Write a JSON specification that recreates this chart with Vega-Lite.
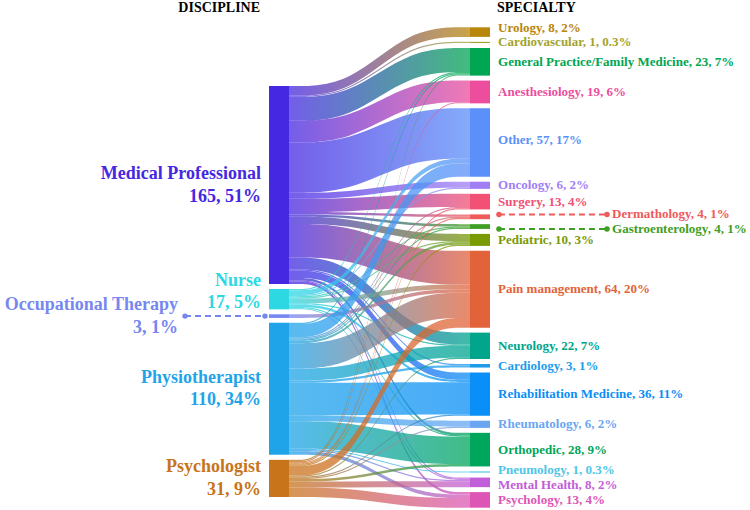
{
  "$schema": "https://vega.github.io/schema/vega-lite/v6.json",
  "width": 750,
  "height": 510,
  "autosize": {"type": "fit", "contains": "padding"},
  "padding": 0,
  "background": "white",
  "config": {"view": {"stroke": null}, "font": "'Liberation Serif', 'Times New Roman', serif"},
  "datasets": {
    "flows": [
      {"source": "Medical Professional", "target": "Urology", "value": 8},
      {"source": "Medical Professional", "target": "Cardiovascular", "value": 1},
      {"source": "Medical Professional", "target": "General Practice/Family Medicine", "value": 20},
      {"source": "Medical Professional", "target": "Anesthesiology", "value": 18},
      {"source": "Medical Professional", "target": "Other", "value": 42},
      {"source": "Medical Professional", "target": "Oncology", "value": 5},
      {"source": "Medical Professional", "target": "Surgery", "value": 11},
      {"source": "Medical Professional", "target": "Dermathology", "value": 2},
      {"source": "Medical Professional", "target": "Gastroenterology", "value": 2},
      {"source": "Medical Professional", "target": "Pediatric", "value": 6},
      {"source": "Medical Professional", "target": "Pain management", "value": 28},
      {"source": "Medical Professional", "target": "Neurology", "value": 10},
      {"source": "Medical Professional", "target": "Cardiology", "value": 1},
      {"source": "Medical Professional", "target": "Rehabilitation Medicine", "value": 6},
      {"source": "Medical Professional", "target": "Orthopedic", "value": 2},
      {"source": "Medical Professional", "target": "Mental Health", "value": 1},
      {"source": "Medical Professional", "target": "Psychology", "value": 2},
      {"source": "Nurse", "target": "General Practice/Family Medicine", "value": 1},
      {"source": "Nurse", "target": "Other", "value": 4},
      {"source": "Nurse", "target": "Oncology", "value": 1},
      {"source": "Nurse", "target": "Gastroenterology", "value": 1},
      {"source": "Nurse", "target": "Pediatric", "value": 1},
      {"source": "Nurse", "target": "Pain management", "value": 4},
      {"source": "Nurse", "target": "Neurology", "value": 1},
      {"source": "Nurse", "target": "Rehabilitation Medicine", "value": 2},
      {"source": "Nurse", "target": "Orthopedic", "value": 1},
      {"source": "Nurse", "target": "Mental Health", "value": 1},
      {"source": "Occupational Therapy", "target": "Pain management", "value": 3},
      {"source": "Physiotherapist", "target": "General Practice/Family Medicine", "value": 1},
      {"source": "Physiotherapist", "target": "Other", "value": 11},
      {"source": "Physiotherapist", "target": "Surgery", "value": 1},
      {"source": "Physiotherapist", "target": "Dermathology", "value": 1},
      {"source": "Physiotherapist", "target": "Gastroenterology", "value": 1},
      {"source": "Physiotherapist", "target": "Pediatric", "value": 2},
      {"source": "Physiotherapist", "target": "Pain management", "value": 21},
      {"source": "Physiotherapist", "target": "Neurology", "value": 10},
      {"source": "Physiotherapist", "target": "Cardiology", "value": 2},
      {"source": "Physiotherapist", "target": "Rehabilitation Medicine", "value": 27},
      {"source": "Physiotherapist", "target": "Rheumatology", "value": 5},
      {"source": "Physiotherapist", "target": "Orthopedic", "value": 23},
      {"source": "Physiotherapist", "target": "Pneumology", "value": 1},
      {"source": "Physiotherapist", "target": "Mental Health", "value": 1},
      {"source": "Physiotherapist", "target": "Psychology", "value": 3},
      {"source": "Psychologist", "target": "General Practice/Family Medicine", "value": 1},
      {"source": "Psychologist", "target": "Anesthesiology", "value": 1},
      {"source": "Psychologist", "target": "Surgery", "value": 1},
      {"source": "Psychologist", "target": "Dermathology", "value": 1},
      {"source": "Psychologist", "target": "Pediatric", "value": 1},
      {"source": "Psychologist", "target": "Pain management", "value": 8},
      {"source": "Psychologist", "target": "Neurology", "value": 1},
      {"source": "Psychologist", "target": "Rehabilitation Medicine", "value": 1},
      {"source": "Psychologist", "target": "Rheumatology", "value": 1},
      {"source": "Psychologist", "target": "Orthopedic", "value": 2},
      {"source": "Psychologist", "target": "Mental Health", "value": 5},
      {"source": "Psychologist", "target": "Psychology", "value": 8}
    ],
    "nodes": [
      {"name": "Medical Professional", "pct": "51%"},
      {"name": "Nurse", "pct": "5%"},
      {"name": "Occupational Therapy", "pct": "1%"},
      {"name": "Physiotherapist", "pct": "34%"},
      {"name": "Psychologist", "pct": "9%"},
      {"name": "Urology", "pct": "2%"},
      {"name": "Cardiovascular", "pct": "0.3%"},
      {"name": "General Practice/Family Medicine", "pct": "7%"},
      {"name": "Anesthesiology", "pct": "6%"},
      {"name": "Other", "pct": "17%"},
      {"name": "Oncology", "pct": "2%"},
      {"name": "Surgery", "pct": "4%"},
      {"name": "Dermathology", "pct": "1%"},
      {"name": "Gastroenterology", "pct": "1%"},
      {"name": "Pediatric", "pct": "3%"},
      {"name": "Pain management", "pct": "20%"},
      {"name": "Neurology", "pct": "7%"},
      {"name": "Cardiology", "pct": "1%"},
      {"name": "Rehabilitation Medicine", "pct": "11%"},
      {"name": "Rheumatology", "pct": "2%"},
      {"name": "Orthopedic", "pct": "9%"},
      {"name": "Pneumology", "pct": "0.3%"},
      {"name": "Mental Health", "pct": "2%"},
      {"name": "Psychology", "pct": "4%"}
    ]
  },
  "layer": [
    {
      "data": {"name": "flows"},
      "transform": [
        {"calculate": "indexof(['Medical Professional','Nurse','Occupational Therapy','Physiotherapist','Psychologist'], datum.source)", "as": "si"},
        {"calculate": "indexof(['Urology','Cardiovascular','General Practice/Family Medicine','Anesthesiology','Other','Oncology','Surgery','Dermathology','Gastroenterology','Pediatric','Pain management','Neurology','Cardiology','Rehabilitation Medicine','Rheumatology','Orthopedic','Pneumology','Mental Health','Psychology'], datum.target)", "as": "ti"},
        {"stack": "value", "groupby": [], "sort": [{"field": "si", "order": "ascending"}, {"field": "ti", "order": "ascending"}], "as": ["sa", "sb"]},
        {"stack": "value", "groupby": [], "sort": [{"field": "ti", "order": "ascending"}, {"field": "si", "order": "ascending"}], "as": ["ta", "tb"]},
        {"calculate": "71.67 + datum.sa + 4.13 * datum.si", "as": "s0"},
        {"calculate": "datum.s0 + datum.value", "as": "s1"},
        {"calculate": "22.75 + datum.ta + 4.13 * datum.ti", "as": "t0"},
        {"calculate": "datum.t0 + datum.value", "as": "t1"}
      ],
      "layer": [
        {
          "transform": [
            {"calculate": "{'Medical Professional':'#4528e2','Nurse':'#2ed8e2','Occupational Therapy':'#7787f0','Physiotherapist':'#1fa4ea','Psychologist':'#c8741a','Urology':'#b8860b','Cardiovascular':'#a3a32e','General Practice/Family Medicine':'#00a651','Anesthesiology':'#ec4d9d','Other':'#5b8ff9','Oncology':'#a07ff5','Surgery':'#f25074','Dermathology':'#ef5a5a','Gastroenterology':'#3f9e24','Pediatric':'#7a9a05','Pain management':'#e2633a','Neurology':'#00a58c','Cardiology':'#1e9ceb','Rehabilitation Medicine':'#0a8ef7','Rheumatology':'#6aa6f2','Orthopedic':'#00a65c','Pneumology':'#4ec5e8','Mental Health':'#c35ed9','Psychology':'#dd56b6'}", "as": "cm"},
            {"calculate": "{gradient: 'linear', x1: 0, y1: 0, x2: 1, y2: 0, stops: [{offset: 0, color: datum.cm[datum.source]}, {offset: 1, color: datum.cm[datum.target]}]}", "as": "grad"},
            {"calculate": "datum.source + ' > ' + datum.target", "as": "fid"},
            {"calculate": "[0, 0.33, 0.67, 1]", "as": "t"},
            {"flatten": ["t"]},
            {"calculate": "datum.t < 0.5 ? datum.s0 : datum.t0", "as": "ya"},
            {"calculate": "datum.t < 0.5 ? datum.s1 : datum.t1", "as": "yb"}
          ],
          "mark": {"type": "area", "interpolate": "basis", "fillOpacity": 0.75},
          "encoding": {
            "x": {"field": "t", "type": "quantitative", "scale": {"domain": [-1.5967, 2.547], "nice": false, "zero": false}, "axis": null},
            "y": {"field": "ya", "type": "quantitative", "stack": null, "scale": {"domain": [0, 425], "reverse": true, "nice": false, "zero": false}, "axis": null},
            "y2": {"field": "yb"},
            "fill": {"field": "grad", "type": "nominal", "scale": null, "legend": null},
            "detail": {"field": "fid", "type": "nominal"}
          }
        },
        {
          "transform": [
            {"aggregate": [{"op": "min", "field": "s0", "as": "n0"}, {"op": "max", "field": "s1", "as": "n1"}], "groupby": ["source"]},
            {"calculate": "datum.source", "as": "name"}
          ],
          "mark": {"type": "rect"},
          "encoding": {
            "x": {"datum": -0.1105, "type": "quantitative", "scale": {"domain": [-1.5967, 2.547], "nice": false, "zero": false}, "axis": null},
            "x2": {"datum": 0},
            "y": {"field": "n0", "type": "quantitative", "scale": {"domain": [0, 425], "reverse": true, "nice": false, "zero": false}, "axis": null},
            "y2": {"field": "n1"},
            "color": {
              "field": "name", "type": "nominal", "legend": null,
              "scale": {
                "domain": ["Medical Professional","Nurse","Occupational Therapy","Physiotherapist","Psychologist","Urology","Cardiovascular","General Practice/Family Medicine","Anesthesiology","Other","Oncology","Surgery","Dermathology","Gastroenterology","Pediatric","Pain management","Neurology","Cardiology","Rehabilitation Medicine","Rheumatology","Orthopedic","Pneumology","Mental Health","Psychology"],
                "range": ["#4528e2","#2ed8e2","#7787f0","#1fa4ea","#c8741a","#b8860b","#a3a32e","#00a651","#ec4d9d","#5b8ff9","#a07ff5","#f25074","#ef5a5a","#3f9e24","#7a9a05","#e2633a","#00a58c","#1e9ceb","#0a8ef7","#6aa6f2","#00a65c","#4ec5e8","#c35ed9","#dd56b6"]
              }
            }
          }
        },
        {
          "transform": [
            {"aggregate": [{"op": "min", "field": "t0", "as": "n0"}, {"op": "max", "field": "t1", "as": "n1"}], "groupby": ["target"]},
            {"calculate": "datum.target", "as": "name"}
          ],
          "mark": {"type": "rect"},
          "encoding": {
            "x": {"datum": 1, "type": "quantitative", "scale": {"domain": [-1.5967, 2.547], "nice": false, "zero": false}, "axis": null},
            "x2": {"datum": 1.1105},
            "y": {"field": "n0", "type": "quantitative", "scale": {"domain": [0, 425], "reverse": true, "nice": false, "zero": false}, "axis": null},
            "y2": {"field": "n1"},
            "color": {"field": "name", "type": "nominal", "legend": null}
          }
        },
        {
          "transform": [
            {"aggregate": [{"op": "min", "field": "s0", "as": "n0"}, {"op": "max", "field": "s1", "as": "n1"}, {"op": "sum", "field": "value", "as": "tot"}], "groupby": ["source"]},
            {"calculate": "datum.source", "as": "name"},
            {"lookup": "name", "from": {"data": {"name": "nodes"}, "key": "name", "fields": ["pct"]}},
            {"calculate": "[datum.name, datum.tot + ', ' + datum.pct]", "as": "lab"},
            {"calculate": "(datum.n0 + datum.n1) / 2 + (datum.name === 'Nurse' ? -6 : 0)", "as": "yc"},
            {"calculate": "datum.name === 'Occupational Therapy' ? -0.613 : -0.155", "as": "lx"}
          ],
          "mark": {"type": "text", "align": "right", "baseline": "middle", "dy": -11, "fontSize": 18, "fontWeight": "bold", "font": "'Liberation Serif', 'Times New Roman', serif", "lineHeight": 22.5},
          "encoding": {
            "x": {"field": "lx", "type": "quantitative", "scale": {"domain": [-1.5967, 2.547], "nice": false, "zero": false}, "axis": null},
            "y": {"field": "yc", "type": "quantitative", "scale": {"domain": [0, 425], "reverse": true, "nice": false, "zero": false}, "axis": null},
            "text": {"field": "lab"},
            "color": {"field": "name", "type": "nominal", "legend": null}
          }
        },
        {
          "transform": [
            {"aggregate": [{"op": "min", "field": "t0", "as": "n0"}, {"op": "max", "field": "t1", "as": "n1"}, {"op": "sum", "field": "value", "as": "tot"}], "groupby": ["target"]},
            {"calculate": "datum.target", "as": "name"},
            {"lookup": "name", "from": {"data": {"name": "nodes"}, "key": "name", "fields": ["pct"]}},
            {"calculate": "datum.name + ', ' + datum.tot + ', ' + datum.pct", "as": "lab"},
            {"calculate": "(datum.n0 + datum.n1) / 2 + (datum.name === 'Urology' ? -3.3 : datum.name === 'Pneumology' ? -2 : datum.name === 'Mental Health' ? 2 : datum.name === 'Dermathology' ? -2 : datum.name === 'Gastroenterology' ? 2 : datum.name === 'Other' ? -2 : 0)", "as": "yc"},
            {"calculate": "(datum.name === 'Dermathology' || datum.name === 'Gastroenterology') ? 1.785 : 1.155", "as": "lx"}
          ],
          "mark": {"type": "text", "align": "left", "baseline": "middle", "fontSize": 13, "fontWeight": "bold", "font": "'Liberation Serif', 'Times New Roman', serif"},
          "encoding": {
            "x": {"field": "lx", "type": "quantitative", "scale": {"domain": [-1.5967, 2.547], "nice": false, "zero": false}, "axis": null},
            "y": {"field": "yc", "type": "quantitative", "scale": {"domain": [0, 425], "reverse": true, "nice": false, "zero": false}, "axis": null},
            "text": {"field": "lab"},
            "color": {"field": "name", "type": "nominal", "legend": null}
          }
        },
        {
          "transform": [
            {"filter": "datum.source === 'Occupational Therapy'"},
            {"aggregate": [{"op": "min", "field": "s0", "as": "n0"}, {"op": "max", "field": "s1", "as": "n1"}], "groupby": ["source"]},
            {"calculate": "datum.source", "as": "name"},
            {"calculate": "(datum.n0 + datum.n1) / 2", "as": "yc"}
          ],
          "layer": [
            {
              "mark": {"type": "rule", "strokeDash": [6, 4], "strokeWidth": 2},
              "encoding": {
                "x": {"datum": -0.5746, "type": "quantitative", "scale": {"domain": [-1.5967, 2.547], "nice": false, "zero": false}, "axis": null},
                "x2": {"datum": -0.1326},
                "y": {"field": "yc", "type": "quantitative", "scale": {"domain": [0, 425], "reverse": true, "nice": false, "zero": false}, "axis": null},
                "color": {"field": "name", "type": "nominal", "legend": null}
              }
            },
            {
              "mark": {"type": "circle", "size": 30, "opacity": 1},
              "encoding": {
                "x": {"datum": -0.5746, "type": "quantitative", "scale": {"domain": [-1.5967, 2.547], "nice": false, "zero": false}, "axis": null},
                "y": {"field": "yc", "type": "quantitative", "scale": {"domain": [0, 425], "reverse": true, "nice": false, "zero": false}, "axis": null},
                "color": {"field": "name", "type": "nominal", "legend": null}
              }
            },
            {
              "mark": {"type": "circle", "size": 30, "opacity": 1},
              "encoding": {
                "x": {"datum": -0.1326, "type": "quantitative", "scale": {"domain": [-1.5967, 2.547], "nice": false, "zero": false}, "axis": null},
                "y": {"field": "yc", "type": "quantitative", "scale": {"domain": [0, 425], "reverse": true, "nice": false, "zero": false}, "axis": null},
                "color": {"field": "name", "type": "nominal", "legend": null}
              }
            }
          ]
        },
        {
          "transform": [
            {"filter": "datum.target === 'Dermathology' || datum.target === 'Gastroenterology'"},
            {"aggregate": [{"op": "min", "field": "t0", "as": "n0"}, {"op": "max", "field": "t1", "as": "n1"}], "groupby": ["target"]},
            {"calculate": "datum.target", "as": "name"},
            {"calculate": "(datum.n0 + datum.n1) / 2 + (datum.name === 'Dermathology' ? -2 : 2)", "as": "yc"}
          ],
          "layer": [
            {
              "mark": {"type": "rule", "strokeDash": [6, 4], "strokeWidth": 2},
              "encoding": {
                "x": {"datum": 1.16, "type": "quantitative", "scale": {"domain": [-1.5967, 2.547], "nice": false, "zero": false}, "axis": null},
                "x2": {"datum": 1.757},
                "y": {"field": "yc", "type": "quantitative", "scale": {"domain": [0, 425], "reverse": true, "nice": false, "zero": false}, "axis": null},
                "color": {"field": "name", "type": "nominal", "legend": null}
              }
            },
            {
              "mark": {"type": "circle", "size": 30, "opacity": 1},
              "encoding": {
                "x": {"datum": 1.16, "type": "quantitative", "scale": {"domain": [-1.5967, 2.547], "nice": false, "zero": false}, "axis": null},
                "y": {"field": "yc", "type": "quantitative", "scale": {"domain": [0, 425], "reverse": true, "nice": false, "zero": false}, "axis": null},
                "color": {"field": "name", "type": "nominal", "legend": null}
              }
            },
            {
              "mark": {"type": "circle", "size": 30, "opacity": 1},
              "encoding": {
                "x": {"datum": 1.757, "type": "quantitative", "scale": {"domain": [-1.5967, 2.547], "nice": false, "zero": false}, "axis": null},
                "y": {"field": "yc", "type": "quantitative", "scale": {"domain": [0, 425], "reverse": true, "nice": false, "zero": false}, "axis": null},
                "color": {"field": "name", "type": "nominal", "legend": null}
              }
            }
          ]
        }
      ]
    },
    {
      "data": {"values": [{"h": "DISCIPLINE"}]},
      "mark": {"type": "text", "align": "right", "baseline": "middle", "fontSize": 14, "fontWeight": "bold", "font": "'Liberation Serif', 'Times New Roman', serif", "color": "black"},
      "encoding": {
        "x": {"datum": -0.16, "type": "quantitative", "scale": {"domain": [-1.5967, 2.547], "nice": false, "zero": false}, "axis": null},
        "y": {"datum": 6.9, "type": "quantitative", "scale": {"domain": [0, 425], "reverse": true, "nice": false, "zero": false}, "axis": null},
        "text": {"field": "h"}
      }
    },
    {
      "data": {"values": [{"h": "SPECIALTY"}]},
      "mark": {"type": "text", "align": "left", "baseline": "middle", "fontSize": 14, "fontWeight": "bold", "font": "'Liberation Serif', 'Times New Roman', serif", "color": "black"},
      "encoding": {
        "x": {"datum": 1.149, "type": "quantitative", "scale": {"domain": [-1.5967, 2.547], "nice": false, "zero": false}, "axis": null},
        "y": {"datum": 6.9, "type": "quantitative", "scale": {"domain": [0, 425], "reverse": true, "nice": false, "zero": false}, "axis": null},
        "text": {"field": "h"}
      }
    }
  ]
}
